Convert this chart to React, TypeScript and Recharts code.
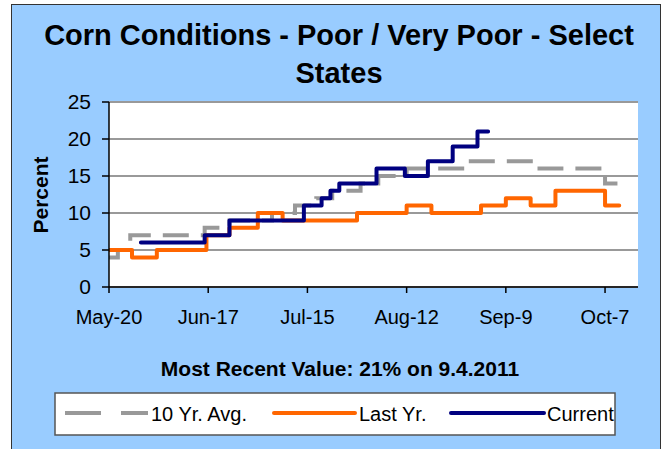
import { LineChart, Line, XAxis, YAxis, CartesianGrid } from "recharts";

const FONT = '"Liberation Sans", Arial, sans-serif';

// x = days since May-20
const tickDays = [0, 28, 56, 84, 112, 140];
const tickLabels = ["May-20", "Jun-17", "Jul-15", "Aug-12", "Sep-9", "Oct-7"];
const yTicks = [0, 5, 10, 15, 20, 25];

const avgDays = [0, 2.5, 6, 27, 34, 46, 52.5, 58.5, 63, 71, 76, 84, 101, 121.5, 140, 143.5];
const avgValues = [4, 5, 7, 8, 9, 10, 11, 12, 13, 14, 15, 16, 17, 16, 14, 14];

const lastDays = [0, 6.5, 13.5, 27.5, 34, 42, 49, 70, 84, 91, 105, 112, 119, 126, 140, 144];
const lastValues = [5, 4, 5, 7, 8, 10, 9, 10, 11, 10, 11, 12, 11, 13, 11, 11];

const curDays = [9, 27, 34, 55, 60, 62.5, 65, 75.5, 83.5, 90, 97, 104, 107];
const curValues = [6, 7, 9, 11, 12, 13, 14, 16, 15, 17, 19, 21, 21];

const toRows = (days: number[], values: number[]) =>
  days.map((d, i) => ({ day: d, v: values[i] }));

export default function App() {
  const avg = toRows(avgDays, avgValues);
  const last = toRows(lastDays, lastValues);
  const cur = toRows(curDays, curValues);

  return (
    <div
      style={{
        position: "absolute",
        left: 0,
        top: 0,
        width: 668,
        height: 449,
        background: "#fff",
        overflow: "hidden",
        fontFamily: FONT,
      }}
    >
      <div
        style={{
          position: "absolute",
          left: 11,
          top: 4,
          width: 650,
          height: 470,
          background: "#99CCFF",
          border: "1px solid #333",
          boxSizing: "border-box",
        }}
      />
      <div style={{ position: "absolute", left: 0, top: 0 }}>
        <LineChart
          width={668}
          height={449}
          margin={{ top: 102, right: 30, bottom: 132, left: 49 }}
        >
          <CartesianGrid vertical={false} stroke="#999" strokeWidth={2} fill="#fff" fillOpacity={1} />
          <XAxis
            type="number"
            dataKey="day"
            domain={[0, 149.3]}
            ticks={tickDays}
            tickFormatter={(d: number) => tickLabels[tickDays.indexOf(d)] ?? ""}
            height={30}
            stroke="#000"
            strokeWidth={1.5}
            tickSize={6}
            tickMargin={17}
            tick={{ fill: "#000", fontSize: 20, fontFamily: FONT }}
            allowDataOverflow
          />
          <YAxis
            type="number"
            domain={[0, 25]}
            ticks={yTicks}
            width={60}
            stroke="#000"
            strokeWidth={1.5}
            tickSize={7}
            tickMargin={11}
            tick={{ fill: "#000", fontSize: 21, fontFamily: FONT }}
          />
          <Line
            data={avg}
            dataKey="v"
            type="stepAfter"
            stroke="#999999"
            strokeWidth={4}
            strokeDasharray="26 12"
            dot={false}
            isAnimationActive={false}
          />
          <Line
            data={last}
            dataKey="v"
            type="stepAfter"
            stroke="#FF6600"
            strokeWidth={4}
            strokeLinecap="round"
            strokeLinejoin="round"
            dot={false}
            isAnimationActive={false}
          />
          <Line
            data={cur}
            dataKey="v"
            type="stepAfter"
            stroke="#000080"
            strokeWidth={4}
            strokeLinecap="round"
            strokeLinejoin="round"
            dot={false}
            isAnimationActive={false}
          />
        </LineChart>
      </div>
      <svg
        width={668}
        height={449}
        style={{ position: "absolute", left: 0, top: 0, pointerEvents: "none" }}
        fontFamily={FONT}
      >
        <text x={339} y={45} textAnchor="middle" fontSize={29} fontWeight="bold" fill="#000">
          Corn Conditions - Poor / Very Poor - Select
        </text>
        <text x={339} y={83} textAnchor="middle" fontSize={29} fontWeight="bold" fill="#000">
          States
        </text>
        <text
          x={0}
          y={0}
          transform="translate(48,195) rotate(-90)"
          textAnchor="middle"
          fontSize={21}
          fontWeight="bold"
          fill="#000"
        >
          Percent
        </text>
        <text x={340} y={376} textAnchor="middle" fontSize={21} fontWeight="bold" fill="#000">
          Most Recent Value: 21% on 9.4.2011
        </text>
        <rect x={55} y={393} width={560} height={42} fill="#fff" stroke="#555" strokeWidth={1.5} />
        <line x1={65} y1={413} x2={148} y2={413} stroke="#999" strokeWidth={4} strokeDasharray="36 20" />
        <text x={151} y={421} fontSize={20} fill="#000">10 Yr. Avg.</text>
        <line x1={274} y1={413} x2={355} y2={413} stroke="#FF6600" strokeWidth={4} strokeLinecap="round" />
        <text x={359} y={421} fontSize={20} fill="#000">Last Yr.</text>
        <line x1={451} y1={413} x2={544} y2={413} stroke="#000080" strokeWidth={4} strokeLinecap="round" />
        <text x={547} y={421} fontSize={20} fill="#000">Current</text>
      </svg>
    </div>
  );
}
